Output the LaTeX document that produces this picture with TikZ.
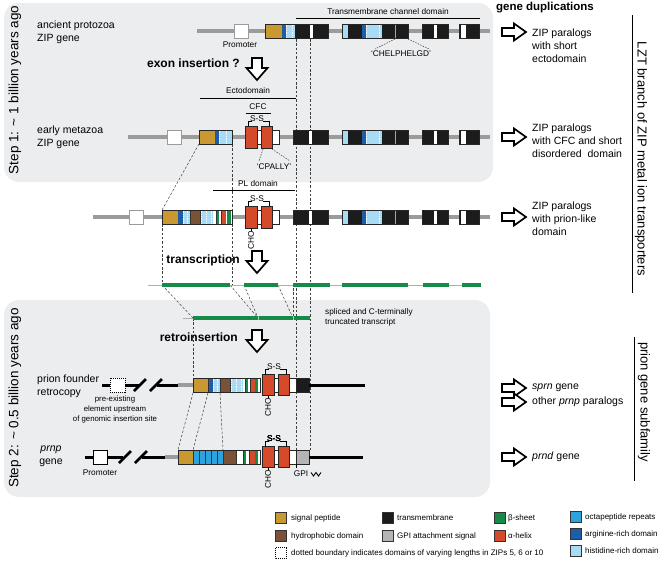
\documentclass[tikz,border=0pt]{standalone}
\usepackage{fontspec}
\setmainfont{Liberation Sans}
\definecolor{panel}{HTML}{ECEDEF}
\definecolor{gold}{HTML}{C99830}
\definecolor{brownh}{HTML}{7A5235}
\definecolor{tmblack}{HTML}{1C1C1C}
\definecolor{gpigray}{HTML}{B4B4B4}
\definecolor{bsheet}{HTML}{168A47}
\definecolor{ahelix}{HTML}{D44A2A}
\definecolor{octa}{HTML}{2AA3DE}
\definecolor{dblue}{HTML}{1E5DA8}
\definecolor{lblue}{HTML}{A9DCF4}
\definecolor{bbgray}{HTML}{9B9B9B}
\tikzset{
 boxline/.style={draw=black!85, line width=0.7pt},
 backbone/.style={bbgray, line width=3.5pt},
 blackbone/.style={black, line width=3pt},
 guide/.style={black!75, line width=0.5pt, dash pattern=on 2.5pt off 1.8pt},
 blockarrow/.style={draw=black, line width=1.7pt, fill=white, line join=miter},
 txtlbl/.style={inner sep=0pt, font=\fontsize{10.5}{13}\selectfont, align=left},
 txtsmall/.style={inner sep=0pt, font=\fontsize{8.3}{10}\selectfont},
 txtleg/.style={inner sep=0pt, font=\fontsize{8}{9}\selectfont, anchor=west},
 txtbold/.style={inner sep=0pt, font=\fontsize{12}{14}\selectfont\bfseries},
 txtside/.style={inner sep=0pt, font=\fontsize{13.5}{16}\selectfont},
 darrow/.pic={\draw[blockarrow] (-5,0) -- (5,0) -- (5,10) -- (10.5,10) -- (0,22) -- (-10.5,10) -- (-5,10) -- cycle;},
 rarrow/.pic={\draw[blockarrow] (0,-4) -- (12,-4) -- (12,-8.5) -- (24,0) -- (12,8.5) -- (12,4) -- (0,4) -- cycle;},
}
\newcommand\bx[5]{\fill[#5] (#1,#3-#4) rectangle (#2,#3+#4);}
\newcommand\ol[4]{\draw[boxline] (#1,#3-#4) rectangle (#2,#3+#4);}
\newcommand\dotb[2]{\draw[white, line width=0.8pt, dash pattern=on 0.8pt off 0.9pt] (#1,#2-6.3) -- (#1,#2+6.3);}
\newcommand\sepl[2]{\draw[black!80, line width=0.4pt] (#1,#2-7) -- (#1,#2+7);}
\newcommand\tmgroups[1]{%
 \bx{342}{348}{#1}{7}{lblue}
 \bx{348}{362}{#1}{7}{tmblack}
 \bx{362}{366}{#1}{7}{dblue}
 \bx{366}{382}{#1}{7}{lblue}
 \bx{382}{408}{#1}{7}{tmblack}
 \dotb{366}{#1}\dotb{379}{#1}
 \draw[gray!70, line width=0.5pt] (395,#1-7) -- (395,#1+7);
 \ol{342}{408}{#1}{7}
 \bx{422}{448}{#1}{7}{tmblack}
 \bx{434}{437}{#1}{7}{white}
 \ol{422}{448}{#1}{7}
 \bx{459}{479}{#1}{7}{tmblack}
 \bx{461}{466}{#1}{7}{white}
 \ol{459}{479}{#1}{7}
}
\newcommand\cfcpair[4]{% x1 of red1, y, half, bracket y
 \bx{#1}{#1+34}{#2}{7}{white}\ol{#1}{#1+34}{#2}{7}
 \bx{#1}{#1+12}{#2}{#3}{ahelix}\ol{#1}{#1+12}{#2}{#3}
 \bx{#1+16}{#1+27}{#2}{#3}{ahelix}\ol{#1+16}{#1+27}{#2}{#3}
 \draw[black, line width=0.6pt] (#1+3,#2-#3) -- (#1+3,#4) -- (#1+6.5,#4);
 \draw[black, line width=0.6pt] (#1+17.5,#4) -- (#1+24,#4) -- (#1+24,#2-#3);
}
\begin{document}
\begin{tikzpicture}[x=1pt,y=-1pt]
\useasboundingbox (0,0) rectangle (661,566);
% panels
\fill[panel, rounded corners=15pt] (4,3) rectangle (493,182);
\fill[panel, rounded corners=15pt] (4,300) rectangle (490,497);
% guides
\draw[guide] (296,39) -- (296,450);
\draw[guide] (310,39) -- (310,450);
\draw[guide] (199,144) -- (162,210);
\draw[guide] (232,144) -- (232,210);
\draw[guide] (162,224) -- (162,285);
\draw[guide] (232,224) -- (232,285);
\draw[guide] (162,285) -- (193,318);
\draw[guide] (230,285) -- (258,318);
\draw[guide] (244,285) -- (258,318);
\draw[guide] (278,285) -- (293,318);
\draw[guide] (293,288) -- (293,318);
\draw[guide] (193,318) -- (193,378);
\draw[guide] (193,393) -- (178,450);
\draw[guide] (208,393) -- (193,450);
\draw[guide] (220,393) -- (223,450);

% ---------- Row 1 ----------
\draw[backbone] (197,31) -- (490,31);
\filldraw[fill=white, draw=bbgray, line width=0.8pt] (234,24) rectangle (248,38);
\node[txtsmall] (prom1) at (240,45) {Promoter};
\bx{265}{282}{31}{7}{gold}
\bx{282}{286}{31}{7}{dblue}
\bx{286}{295}{31}{7}{lblue}
\bx{295}{328}{31}{7}{tmblack}
\bx{310}{313}{31}{7}{white}
\dotb{286}{31}\dotb{292}{31}
\ol{265}{328}{31}{7}
\tmgroups{31}
\draw[black, line width=0.6pt] (296,18) -- (480,18);
\node[txtsmall] (tmlab) at (388,12) {Transmembrane channel domain};
\node[txtsmall] (chel) at (401,54) {`CHELPHELGD'};
\draw[guide, dash pattern=on 1.5pt off 1.2pt] (395,39) -- (375,49);
\draw[guide, dash pattern=on 1.5pt off 1.2pt] (408,39) -- (429,49);

\node[txtbold, anchor=east] (exon) at (240,63) {exon insertion ?};
\pic at (257,58) {darrow};

\draw[black, line width=0.6pt] (200,98) -- (296,98);
\node[txtsmall] (ecto) at (248,91) {Ectodomain};
\node[txtsmall] (cfc) at (258,107) {CFC};
\draw[black, line width=0.6pt] (246,113) -- (271,113);

% ---------- Row 2 ----------
\draw[backbone] (128,137) -- (490,137);
\filldraw[fill=white, draw=bbgray, line width=0.8pt] (167,130) rectangle (181,144);
\bx{199}{215}{137}{7}{gold}
\bx{215}{219}{137}{7}{dblue}
\bx{219}{232}{137}{7}{lblue}
\dotb{219}{137}\dotb{226}{137}
\ol{199}{232}{137}{7}
\cfcpair{245}{137}{11}{121}
\node[txtsmall] (ss2) at (257,119) {S-S};
\bx{293}{328}{137}{7}{tmblack}
\bx{309}{312}{137}{7}{white}
\ol{293}{328}{137}{7}
\tmgroups{137}
\node[txtsmall] (cpally) at (274,167) {`CPALLY'};
\draw[guide, dash pattern=on 1.5pt off 1.2pt] (263,149) -- (259,161);
\draw[guide, dash pattern=on 1.5pt off 1.2pt] (272,149) -- (290,161);

% ---------- Row 3 ----------
\draw[black, line width=0.6pt] (213,190) -- (295,190);
\node[txtsmall] (pldom) at (258,184) {PL domain};
\draw[backbone] (93,217) -- (490,217);
\filldraw[fill=white, draw=bbgray, line width=0.8pt] (129,210) rectangle (143,224);
\bx{162}{178}{217}{7}{gold}
\bx{178}{183}{217}{7}{dblue}
\bx{183}{190}{217}{7}{lblue}
\bx{190}{200}{217}{7}{brownh}
\bx{200}{213}{217}{7}{lblue}
\bx{213}{216}{217}{7}{white}
\bx{216}{219}{217}{7}{bsheet}
\bx{219}{221}{217}{7}{white}
\bx{221}{226}{217}{7}{ahelix}
\bx{226}{227}{217}{7}{white}
\bx{227}{231}{217}{7}{bsheet}
\bx{231}{232}{217}{7}{white}
\dotb{183}{217}\dotb{187}{217}\dotb{201}{217}\dotb{206}{217}\dotb{211}{217}
\sepl{190}{217}\sepl{200}{217}\sepl{216}{217}\sepl{221}{217}
\ol{162}{232}{217}{7}
\cfcpair{245}{217}{11}{201}
\node[txtsmall] (ss3) at (257,199) {S-S};
\draw[black, line width=0.6pt] (251,228) -- (251,231);
\node[txtsmall, rotate=90] (cho3) at (251,240) {CHO};
\bx{293}{328}{217}{7}{tmblack}
\bx{309}{312}{217}{7}{white}
\ol{293}{328}{217}{7}
\tmgroups{217}

% ---------- transcription ----------
\node[txtbold, anchor=east] (trans) at (240,260) {transcription};
\pic at (257,251) {darrow};
\draw[bbgray!80, line width=1pt] (148,285) -- (481,285);
\foreach \a/\b in {162/230,244/278,293/330,342/408,423/449,462/481}
  \draw[bsheet, line width=4pt] (\a,285) -- (\b,285);
\draw[bbgray!80, line width=1pt] (183,318) -- (193,318);
\draw[bsheet, line width=4pt] (193,318) -- (310,318);
\draw[white!60!bsheet, line width=0.6pt] (258,316) -- (258,320);
\draw[white!60!bsheet, line width=0.6pt] (293,316) -- (293,320);
\node[inner sep=0pt, font=\fontsize{8.2}{9.5}\selectfont, anchor=west, align=left] (splt) at (325,317.5) {spliced and C-terminally\\truncated transcript};

\node[txtbold, anchor=east] (retro) at (238,337) {retroinsertion};
\pic at (257,330) {darrow};

% ---------- Row 5 ----------
\draw[blackbone] (102,385) -- (139,385);
\draw[blackbone] (157,385) -- (178,385);
\draw[black, line width=2.6pt] (134,391) -- (146,379);
\draw[black, line width=2.6pt] (150,391) -- (162,379);
\draw[backbone] (178,385) -- (193,385);
\filldraw[fill=white, draw=black, line width=0.8pt, dash pattern=on 1pt off 1pt] (110,378) rectangle (125,392);
\node[inner sep=0pt, font=\fontsize{7.8}{10}\selectfont, align=center] (preex) at (115,409) {pre-existing\\element upstream\\of genomic insertion site};
\bx{193}{208}{385}{7}{gold}
\bx{208}{213}{385}{7}{dblue}
\bx{213}{220}{385}{7}{lblue}
\bx{220}{230}{385}{7}{brownh}
\bx{230}{243}{385}{7}{lblue}
\bx{243}{245}{385}{7}{white}
\bx{245}{248}{385}{7}{bsheet}
\bx{248}{250}{385}{7}{white}
\bx{250}{255}{385}{7}{ahelix}
\bx{255}{258}{385}{7}{bsheet}
\bx{258}{260}{385}{7}{white}
\dotb{213}{385}\dotb{217}{385}\dotb{231}{385}\dotb{236}{385}\dotb{241}{385}
\sepl{208}{385}\sepl{220}{385}\sepl{230}{385}\sepl{245}{385}\sepl{250}{385}
\ol{193}{260}{385}{7}
\cfcpair{262}{385}{10.5}{369}
\node[txtsmall] (ss5) at (274,367) {S-S};
\bx{296}{309}{385}{7}{tmblack}
\ol{296}{309}{385}{7}
\draw[blackbone] (309,385) -- (365,385);
\draw[black, line width=0.6pt] (268,395.5) -- (268,398);
\node[txtsmall, rotate=90] (cho5) at (268,407) {CHO};

% ---------- Row 6 ----------
\draw[blackbone] (85,457) -- (123,457);
\draw[blackbone] (142,457) -- (165,457);
\draw[black, line width=2.6pt] (119,463) -- (131,451);
\draw[black, line width=2.6pt] (135,463) -- (147,451);
\draw[backbone] (165,457) -- (178,457);
\filldraw[fill=white, draw=black, line width=0.9pt] (93,450) rectangle (107,464);
\node[txtsmall] (prom6) at (100,473) {Promoter};
\bx{178}{193}{457}{7}{gold}
\bx{193}{223}{457}{7}{octa}
\foreach \s in {199,205,211,217} \sepl{\s}{457}
\bx{223}{236}{457}{7}{brownh}
\bx{236}{243}{457}{7}{white}
\bx{243}{246}{457}{7}{bsheet}
\bx{246}{249}{457}{7}{white}
\bx{249}{255}{457}{7}{ahelix}
\bx{255}{258}{457}{7}{bsheet}
\bx{258}{260}{457}{7}{white}
\sepl{193}{457}\sepl{223}{457}\sepl{236}{457}\sepl{243}{457}\sepl{249}{457}
\ol{178}{260}{457}{7}
\cfcpair{262}{457}{10.5}{441}
\node[txtsmall] (ss6) at (274,439) {S-S};
\bx{296}{309}{457}{7}{gpigray}
\ol{296}{309}{457}{7}
\draw[blackbone] (309,457) -- (363,457);
\draw[black, line width=0.6pt] (268,467.5) -- (268,470);
\node[txtsmall, rotate=90] (cho6) at (268,479) {CHO};
\draw[black, line width=0.6pt] (296,464) -- (296,468);
\node[txtsmall] (gpi) at (301,474) {GPI};
\draw[black, line width=0.9pt] (311,472.5) -- (313.5,476) -- (316,472.5) -- (318.5,476) -- (321,472.5);

% ---------- left labels ----------
\node[txtside, rotate=90] (s1) at (15,90) {Step 1: \textasciitilde{} 1 billion years ago};
\node[txtside, rotate=90] (s2) at (15,398) {Step 2: \textasciitilde{} 0.5 billion years ago};
\node[txtlbl, anchor=north west] (l1) at (37,20.5) {ancient protozoa\\ZIP gene};
\node[txtlbl, anchor=north west] (l2) at (37,125.5) {early metazoa\\ZIP gene};
\node[txtlbl, anchor=north west] (l5) at (37,374.5) {prion founder\\retrocopy};
\node[txtlbl, anchor=north, align=center] (l6) at (51,445.5) {\textit{prnp}\\gene};

% ---------- right side ----------
\node[inner sep=0pt, font=\fontsize{11.5}{13}\selectfont\bfseries] (gdup) at (545,8) {gene duplications};
\pic at (502,32) {rarrow};
\pic at (502,137) {rarrow};
\pic at (502,217) {rarrow};
\pic at (502,388) {rarrow};
\pic at (502,402) {rarrow};
\pic at (502,457) {rarrow};
\node[txtlbl, anchor=north west] (r1) at (532,28.5) {ZIP paralogs\\with short\\ectodomain};
\node[txtlbl, anchor=north west] (r2) at (532,123.5) {ZIP paralogs\\with CFC and short\\disordered\ \ domain};
\node[txtlbl, anchor=north west] (r3) at (532,201.5) {ZIP paralogs\\with prion-like\\domain};
\node[txtlbl, anchor=west] (r4) at (532,388) {\textit{sprn} gene};
\node[txtlbl, anchor=west] (r5) at (532,402) {other \textit{prnp} paralogs};
\node[txtlbl, anchor=west] (r6) at (532,457) {\textit{prnd} gene};
\draw[black, line width=0.8pt] (632,15) -- (632,293);
\draw[black, line width=0.8pt] (634,337) -- (634,481);
\node[txtside, font=\fontsize{13}{15}\selectfont, rotate=-90] (lzt) at (641,159) {LZT branch of ZIP metal ion transporters};
\node[txtside, font=\fontsize{13}{15}\selectfont, rotate=-90] (pgs) at (644,402) {prion gene subfamily};

% ---------- legend ----------
\newcommand\legsq[3]{\filldraw[fill=#3, draw=black!80, line width=0.6pt] (#1,#2-5.5) rectangle (#1+11,#2+5.5);}
\legsq{275}{518}{gold}\node[txtleg] (lg1) at (291,518) {signal peptide};
\legsq{382}{518}{tmblack}\node[txtleg] (lg2) at (397,518) {transmembrane};
\legsq{494}{518}{bsheet}\node[txtleg] (lg3) at (508,518) {β-sheet};
\legsq{570}{517}{octa}\node[txtleg] (lg4) at (585,517) {octapeptide repeats};
\legsq{275}{536}{brownh}\node[txtleg] (lg5) at (291,536) {hydrophobic domain};
\legsq{382}{536}{gpigray}\node[txtleg] (lg6) at (397,536) {GPI attachment signal};
\legsq{494}{536}{ahelix}\node[txtleg] (lg7) at (508,536) {α-helix};
\legsq{570}{534}{dblue}\node[txtleg] (lg8) at (585,534) {arginine-rich domain};
\filldraw[fill=white, draw=black, line width=0.7pt, dash pattern=on 1pt off 1pt] (275,547.5) rectangle (286,558.5);
\node[txtleg] (lg9) at (291,553) {dotted boundary indicates domains of varying lengths in ZIPs 5, 6 or 10};
\legsq{570}{551}{lblue}\node[txtleg] (lg10) at (585,551) {histidine-rich domain};
\end{tikzpicture}
\end{document}
